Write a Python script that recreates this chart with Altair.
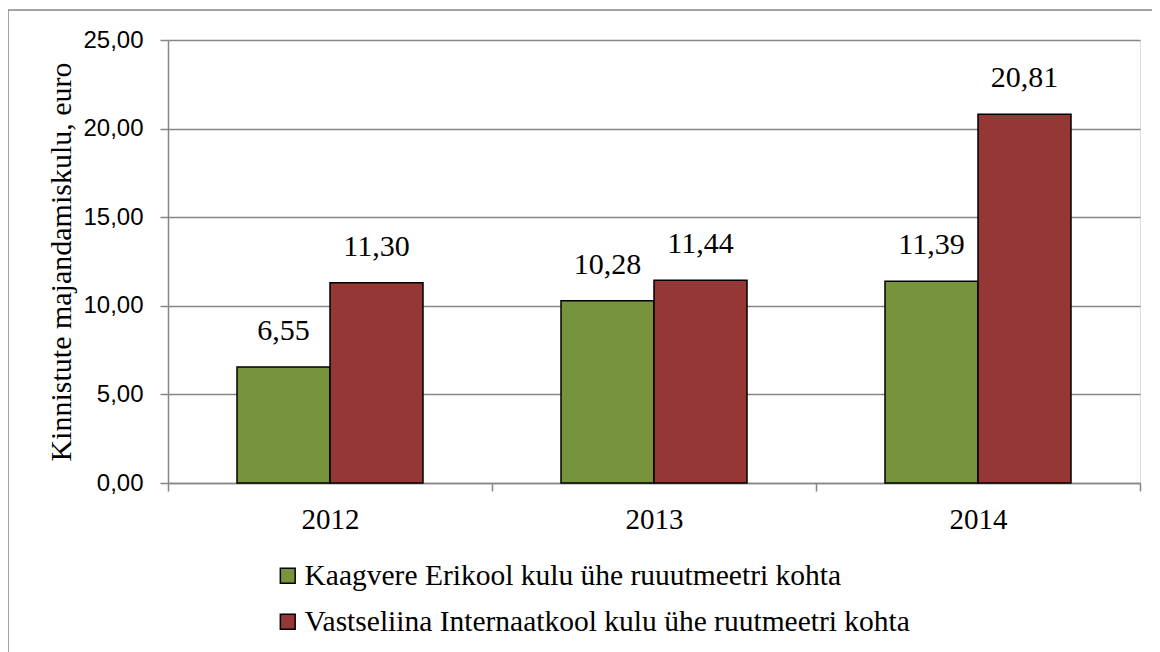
import altair as alt
import pandas as pd

years = ["2012", "2013", "2014"]
series = ["Kaagvere Erikool kulu ühe ruuutmeetri kohta",
          "Vastseliina Internaatkool kulu ühe ruutmeetri kohta"]
kaagvere = [6.55, 10.28, 11.39]
vastseliina = [11.30, 11.44, 20.81]
colors = ["#77933C", "#953735"]

rows = []
for i, y in enumerate(years):
    rows.append({"year": y, "series": series[0], "value": kaagvere[i]})
    rows.append({"year": y, "series": series[1], "value": vastseliina[i]})
df = pd.DataFrame(rows)

serif = "Liberation Serif"
sans = "Liberation Sans"

x = alt.X("year:N", title=None,
          scale=alt.Scale(paddingInner=0, paddingOuter=0),
          axis=alt.Axis(labelAngle=0, labelFont=serif, labelFontSize=29, labelColor="black",
                        tickBand="extent", tickSize=8, tickColor="#868686", tickWidth=1.5,
                        domainColor="#868686", domainWidth=1.5, labelPadding=14, grid=False))
xo = alt.XOffset("series:N", sort=series,
                 scale=alt.Scale(paddingInner=0, paddingOuter=0.742))
y = alt.Y("value:Q", title="Kinnistute majandamiskulu, euro",
          scale=alt.Scale(domain=[0, 25]),
          axis=alt.Axis(values=[0, 5, 10, 15, 20, 25],
                        labelExpr="replace(format(datum.value, '.2f'), '.', ',')",
                        labelFont=sans, labelFontSize=24, labelColor="black", labelPadding=17,
                        tickSize=8, tickColor="#868686", tickWidth=1.5,
                        domainColor="#868686", domainWidth=1.5,
                        gridColor="#868686", gridWidth=1.5,
                        titleFont=serif, titleFontSize=30, titleFontWeight="normal",
                        titleColor="black", titlePadding=6))

bars = alt.Chart(df).mark_bar(stroke="black", strokeWidth=1.5).encode(
    x=x, xOffset=xo, y=y,
    color=alt.Color("series:N", sort=series,
                    scale=alt.Scale(domain=series, range=colors),
                    legend=alt.Legend(title=None, orient="none", legendX=105, legendY=521,
                                      direction="vertical", symbolType="square",
                                      symbolSize=220, symbolStrokeColor="black",
                                      symbolStrokeWidth=1.5, labelFont=serif,
                                      labelFontSize=29.5, labelColor="black",
                                      rowPadding=15, labelOffset=2, labelLimit=0))
)

labels = alt.Chart(df).transform_calculate(
    lab="replace(format(datum.value, '.2f'), '.', ',')"
).mark_text(font=serif, fontSize=30, color="black", baseline="alphabetic", dy=-27).encode(
    x=x, xOffset=xo, y=y, text="lab:N"
)

one = pd.DataFrame({"a": [0]})
border_top = alt.Chart(one).mark_rule(color="#868686", strokeWidth=1.5, clip=False).encode(
    x=alt.value(-160), x2=alt.value(1100), y=alt.value(-30))
border_left = alt.Chart(one).mark_rule(color="#868686", strokeWidth=1.5, clip=False).encode(
    x=alt.value(-160), y=alt.value(-30), y2=alt.value(700))

chart = alt.layer(border_top, border_left, bars, labels).properties(
    width=972, height=443,
    autosize=alt.AutoSizeParams(type="none"),
    padding={"left": 160, "top": 32, "right": 12, "bottom": 169},
).configure_view(stroke=None).configure(background="white")

chart.save("out.html", embed_options={"renderer": "svg", "actions": False})
